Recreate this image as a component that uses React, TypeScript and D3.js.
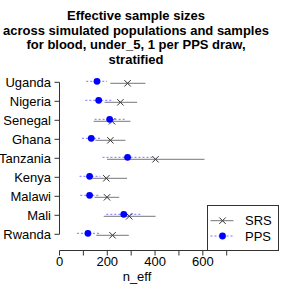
import React from "react";
import * as d3 from "d3";

const countries = ["Uganda", "Nigeria", "Senegal", "Ghana", "Tanzania", "Kenya", "Malawi", "Mali", "Rwanda"];
const srsMid = [285, 255, 220, 213, 402, 196, 199, 292, 222];
const srsLo = [213, 189, 143, 150, 199, 138, 147, 185, 154];
const srsHi = [360, 325, 297, 276, 607, 283, 250, 402, 290];
const ppsMid = [157, 164, 210, 133, 285, 126, 126, 269, 119];
const ppsLo = [112, 108, 147, 94, 180, 84, 87, 196, 73];
const ppsHi = [199, 217, 276, 171, 395, 171, 171, 342, 167];
const xTicks = [0, 100, 200, 300, 400, 500, 600, 700];
const xLabels = [0, 200, 400, 600];
const titleLines = [
  "Effective sample sizes",
  "across simulated populations and samples",
  "for blood, under_5, 1 per PPS draw,",
  "stratified",
];

const FONT = "'Liberation Sans', Arial, Helvetica, sans-serif";

function Cross({ cx, cy, s, color }: { cx: number; cy: number; s: number; color: string }) {
  return (
    <g stroke={color} strokeWidth={1}>
      <line x1={cx - s} y1={cy - s} x2={cx + s} y2={cy + s} />
      <line x1={cx - s} y1={cy + s} x2={cx + s} y2={cy - s} />
    </g>
  );
}

export default function App() {
  const x = d3.scaleLinear().domain([0, 700]).range([59.5, 226.7]);
  const y = d3.scalePoint<string>().domain(countries).range([82.3, 234.3]);
  const axisColor = "#333";
  const srsLine = "#777";
  const srsMark = "#333";
  const blue = "#0000ff";

  return (
    <svg width={285} height={285} style={{ position: "absolute", left: 0, top: 0, background: "#fff" }} fontFamily={FONT}>
      <rect x={0} y={0} width={285} height={285} fill="#fff" />
      {titleLines.map((t, i) => (
        <text key={i} x={136} y={19.8 + i * 14.8} textAnchor="middle" fontWeight="bold" fontSize={13} fill="#000">
          {t}
        </text>
      ))}
      {/* y axis */}
      <line x1={59.5} x2={59.5} y1={y(countries[0])!} y2={y(countries[countries.length - 1])!} stroke={axisColor} />
      {countries.map((c) => (
        <g key={c}>
          <line x1={54.5} x2={59.5} y1={y(c)!} y2={y(c)!} stroke={axisColor} />
          <text x={51} y={y(c)!} dy="0.35em" textAnchor="end" fontSize={13} fill="#000">
            {c}
          </text>
        </g>
      ))}
      {/* x axis */}
      <line x1={x(0)} x2={x(700)} y1={250.5} y2={250.5} stroke={axisColor} />
      {xTicks.map((t) => (
        <line key={t} x1={x(t)} x2={x(t)} y1={250.5} y2={255.5} stroke={axisColor} />
      ))}
      {xLabels.map((t) => (
        <text key={t} x={x(t)} y={265.5} textAnchor="middle" fontSize={13} fill="#000">
          {t}
        </text>
      ))}
      <text x={137} y={281} textAnchor="middle" fontSize={13} fill="#000">
        n_eff
      </text>
      {/* data */}
      {countries.map((c, i) => {
        const ys = y(c)! + 1;
        const yp = y(c)! - 1;
        return (
          <g key={c}>
            <line x1={x(srsLo[i])} x2={x(srsHi[i])} y1={ys} y2={ys} stroke={srsLine} strokeWidth={1} />
            <Cross cx={x(srsMid[i])} cy={ys} s={3.2} color={srsMark} />
            <line x1={x(ppsLo[i])} x2={x(ppsHi[i])} y1={yp} y2={yp} stroke={blue} strokeOpacity={0.55} strokeWidth={1} strokeDasharray="2,2" />
            <circle cx={x(ppsMid[i])} cy={yp} r={3.4} fill={blue} />
          </g>
        );
      })}
      {/* legend */}
      <rect x={207.5} y={205.5} width={71} height={45} fill="#fff" stroke={axisColor} />
      <line x1={210.5} x2={233.5} y1={220.7} y2={220.7} stroke={srsLine} />
      <Cross cx={222.5} cy={220.7} s={3.2} color={srsMark} />
      <text x={245} y={220.7} dy="0.35em" fontSize={13} fill="#000">SRS</text>
      <line x1={210.5} x2={233.5} y1={236} y2={236} stroke={blue} strokeOpacity={0.55} strokeDasharray="2,2" />
      <circle cx={222.5} cy={236} r={3.4} fill={blue} />
      <text x={245} y={236} dy="0.35em" fontSize={13} fill="#000">PPS</text>
    </svg>
  );
}
